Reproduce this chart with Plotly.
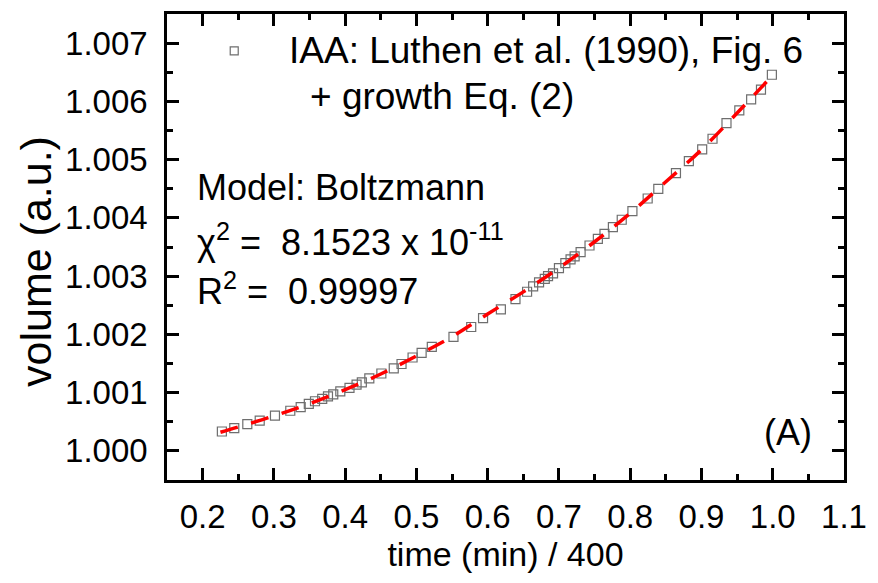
import plotly.graph_objects as go

# data
time_x = [0.227, 0.2444, 0.2627, 0.2801, 0.3015, 0.3230, 0.3376, 0.3490, 0.3577, 0.3678,
          0.3759, 0.3833, 0.3932, 0.4061, 0.4160, 0.4234, 0.4339, 0.4508, 0.4682, 0.4791,
          0.4946, 0.5073, 0.5216, 0.5520, 0.5769, 0.5935, 0.6185, 0.6390, 0.6553, 0.6638,
          0.6721, 0.6801, 0.6847, 0.6917, 0.7000, 0.7090, 0.7163, 0.7220, 0.7304, 0.7429,
          0.7546, 0.7639, 0.7757, 0.7881, 0.8031, 0.8245, 0.8394, 0.8642, 0.8823, 0.9010,
          0.9155, 0.9351, 0.9531, 0.9697, 0.9835, 0.9988]
volume = [1.000333, 1.000392, 1.000460, 1.000521, 1.000606, 1.000689, 1.000752, 1.000806, 1.000852, 1.000891,
          1.000935, 1.000969, 1.001020, 1.001081, 1.001138, 1.001177, 1.001244, 1.001328, 1.001418, 1.001491,
          1.001603, 1.001681, 1.001786, 1.001958, 1.002127, 1.002280, 1.002428, 1.002604, 1.002732, 1.002823,
          1.002891, 1.002954, 1.003000, 1.003046, 1.003138, 1.003222, 1.003287, 1.003338, 1.003413, 1.003526,
          1.003640, 1.003727, 1.003840, 1.003968, 1.004115, 1.004333, 1.004499, 1.004767, 1.004975, 1.005175,
          1.005358, 1.005625, 1.005846, 1.006033, 1.006203, 1.006457]

fit_x = [0.225, 0.25, 0.30, 0.35, 0.40, 0.45, 0.50, 0.55, 0.60, 0.65, 0.70, 0.75, 0.80, 0.85, 0.90, 0.95, 1.00]
fit_y = [1.00032, 1.00041, 1.00060, 1.00081, 1.00105, 1.00132, 1.00163, 1.00196, 1.00235, 1.00273,
         1.00314, 1.00359, 1.00408, 1.00462, 1.00517, 1.00580, 1.00645]

x_ticks = [0.2, 0.3, 0.4, 0.5, 0.6, 0.7, 0.8, 0.9, 1.0, 1.1]
x_tick_labels = ["0.2", "0.3", "0.4", "0.5", "0.6", "0.7", "0.8", "0.9", "1.0", "1.1"]
y_ticks = [1.000, 1.001, 1.002, 1.003, 1.004, 1.005, 1.006, 1.007]
y_tick_labels = ["1.000", "1.001", "1.002", "1.003", "1.004", "1.005", "1.006", "1.007"]

FONT = "Liberation Sans, Arial, sans-serif"

fig = go.Figure()
fig.add_trace(go.Scatter(
    x=time_x, y=volume, mode="markers",
    marker=dict(symbol="square-open", size=9, color="#6e6e6e", line=dict(width=1.2, color="#6e6e6e")),
    showlegend=False))
fig.add_trace(go.Scatter(
    x=fit_x, y=fit_y, mode="lines", line=dict(color="#ff0000", width=3.5, dash="18px,14px", shape="spline"),
    showlegend=False))

axis_common = dict(
    showline=True, linewidth=2.5, linecolor="black", mirror="ticks",
    ticks="inside", ticklen=12, tickwidth=2.5, tickcolor="black",
    showgrid=False, zeroline=False,
    tickfont=dict(family=FONT, size=33, color="black"),
)

fig.update_xaxes(
    range=[0.15, 1.1], tickvals=x_ticks, ticktext=x_tick_labels,
    minor=dict(dtick=0.05, tick0=0.15, ticks="inside", ticklen=6, tickwidth=2.5, tickcolor="black", showgrid=False),
    title=dict(text="time (min) / 400", font=dict(family=FONT, size=34, color="black"), standoff=8),
    ticklabelstandoff=6,
    **axis_common)
fig.update_yaxes(
    range=[0.9995, 1.0075], tickvals=y_ticks, ticktext=y_tick_labels,
    minor=dict(dtick=0.0005, tick0=0.9995, ticks="inside", ticklen=6, tickwidth=2.5, tickcolor="black", showgrid=False),
    ticklabelstandoff=10,
    **axis_common)

ann_font = dict(family=FONT, size=36, color="black")
leg_font = dict(family=FONT, size=37, color="black")
annotations = [
    dict(text="volume (a.u.)", x=-0.1927, y=0.469, xanchor="center", yanchor="middle", textangle=-90,
         font=dict(family=FONT, size=43, color="black")),
    dict(text="IAA: Luthen et al. (1990), Fig. 6", x=0.1766, y=0.922, xanchor="left", yanchor="middle", font=leg_font),
    dict(text="+ growth Eq. (2)", x=0.2088, y=0.822, xanchor="left", yanchor="middle", font=leg_font),
    dict(text="Model: Boltzmann", x=0.0409, y=0.627, xanchor="left", yanchor="middle", font=ann_font),
    dict(text="χ<sup>2</sup> =\u00a0 8.1523 x 10<sup>-11</sup>", x=0.0409, y=0.515, xanchor="left", yanchor="middle", font=ann_font),
    dict(text="R<sup>2</sup> =\u00a0 0.99997", x=0.0409, y=0.410, xanchor="left", yanchor="middle", font=ann_font),
    dict(text="(A)", x=0.9168, y=0.102, xanchor="center", yanchor="middle", font=ann_font),
]
for a in annotations:
    a.update(xref="paper", yref="paper", showarrow=False)

fig.update_layout(
    width=878, height=583,
    margin=dict(l=167, r=26, t=11, b=103),
    paper_bgcolor="white", plot_bgcolor="white",
    annotations=annotations,
    shapes=[dict(type="rect", xref="paper", yref="paper", xsizemode="pixel", ysizemode="pixel",
                 xanchor=0.0993, yanchor=0.921, x0=-4, x1=4, y0=-4, y1=4,
                 line=dict(color="#6e6e6e", width=1.2), fillcolor="rgba(0,0,0,0)")],
)

fig.write_html("out.html")
